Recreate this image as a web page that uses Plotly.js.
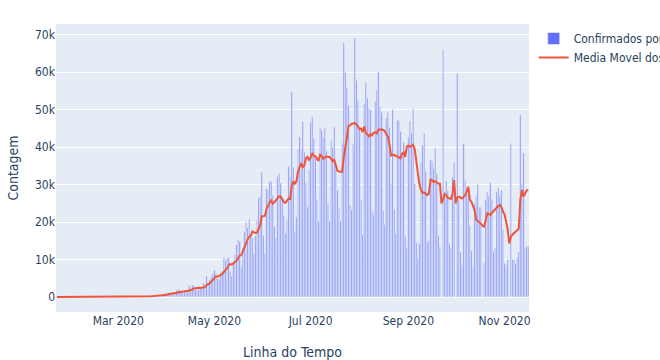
<!DOCTYPE html>
<html>
<head>
<meta charset="utf-8">
<script src="https://cdn.plot.ly/plotly-3.0.1.min.js"></script>
<style>html,body{margin:0;padding:0;background:#fff;overflow:hidden}#chart{width:660px;height:360px}</style>
</head>
<body>
<div id="chart"></div>
<script>
// Daily confirmed cases (Brazil), one array per month; first day of Jan array is Jan 22
const MONTH_KEYS = ['2020-01','2020-02','2020-03','2020-04','2020-05','2020-06','2020-07','2020-08','2020-09','2020-10','2020-11'];
const MONTH_FIRST_DAY = [22,1,1,1,1,1,1,1,1,1,1];

const casesJan = [0,0,0,0,0,0,0,0,0,0];
const casesFeb = [0,0,0,0,0,0,0,0,0,0,0,0,0,0,0,0,0,0,0,0,0,0,0,0,0,1,0,0,1];
const casesMar = [0,0,0,2,5,5,6,5,0,6,16,18,25,21,79,34,57,137,193,283,224,418,345,310,232,482,502,487,352,323,1138];
const casesApr = [1119,1208,1012,1304,770,1031,1873,2136,1922,1546,1089,1465,1238,1832,3058,2105,3257,2976,1996,2089,1927,2498,2678,3735,3503,5514,3379,4613,5385,6276];
const casesMay = [7218,6209,4970,4588,6633,6935,10503,9888,10222,10611,6760,5632,9258,11385,13944,15305,14919,7938,13140,17408,19951,18508,20803,16508,15813,11687,16324,20599,26417,26928,33274];
const casesJun = [16409,11598,28936,28633,30925,30830,27075,18912,15654,32091,32913,30412,25982,21704,17110,20647,34918,32188,54771,34666,17459,21432,39436,42725,39483,46860,38693,30476,24052,33846];
const casesJul = [46712,48105,42223,37279,26051,20229,45305,44571,42619,45048,39023,24831,20286,41857,39924,45403,34970,28532,23529,20257,41008,67860,59961,55891,51147,24578,23284,40816,69074,57837,52383];
const casesAug = [45392,25800,16641,51603,57152,53139,50230,49970,23010,22048,52160,55155,60091,50644,49274,23101,19373,47784,49298,45323,30355,50032,23421,17078,47161,47134,44235,38307,41350,16158,12988];
const casesSep = [42659,46934,43773,50163,30168,14521,10273,14279,35816,40557,43718,33523,14768,15155,36653,36303,34407,39797,33057,16389,13439,0,66000,28000,31000,28378,14318,13155,32058,36000];
const casesOct = [0,59700,26000,12000,8500,41000,31000,29000,27500,19000,12300,8000,25000,27000,30000,24000,24000,0,9000,26000,28000,27000,30500,26000,12000,13000,28000,29000,27000,28500,18000];
const casesNov = [9000,8500,10000,0,41000,10000,10000,9000,10500,12000,48600,30000,38400,13000,13500,13500];

// 7-day moving average
const avgJan = [0,0,0,0,0,0,0,0,0,0];
const avgFeb = [0,0,0,0,0,0,0,0,0,0,0,0,0,0,0,0,0,0,0,0,0,0,0,0,0,0,0,0,0];
const avgMar = [0,0,0,0,1,2,3,3,3,4,6,8,11,13,24,28,36,53,78,115,144,192,237,273,286,328,359,397,387,384,502];
const avgApr = [629,733,806,922,982,1083,1188,1333,1435,1512,1481,1580,1610,1604,1736,1762,2006,2276,2352,2473,2487,2407,2489,2557,2632,3135,3319,3703,4115,4629];
const avgMay = [5127,5513,5436,5608,5897,6118,6722,7104,7677,8483,8793,8650,8982,9108,9687,10414,11029,11197,12270,13434,14658,15310,16095,16322,17447,17240,17085,17177,18307,19182,21577];
const avgJun = [21662,21650,23452,24599,25243,25801,24915,25273,25852,26303,26914,26841,26148,25381,25124,25837,26241,26137,29617,30858,30251,30869,33553,34668,35710,34580,35155,37015,37389,36591];
const avgJul = [37160,38392,37730,37528,36895,36349,37986,37680,36897,37300,37549,37375,37383,36891,36227,36625,35185,33686,33500,33496,33375,37366,39445,42434,45665,45815,46247,46220,46393,46090,45588];
const avgAug = [44766,44941,43992,45533,43830,43159,42851,43505,43106,43879,43958,43673,44666,44725,44626,44639,44257,43632,42795,40685,37787,37895,37941,37613,37524,37215,37059,38200,38600,37400,40200];
const avgSep = [40400,40100,40300,40600,39500,36500,33000,30000,28600,27800,27900,27400,27200,27600,31300,31200,30700,30900,30500,30300,30200,25000,26000,27500,27200,26500,26300,26200,27500,31200];
const avgOct = [25000,26600,26800,26500,26300,26700,27200,28200,29400,25900,25400,24300,23200,20600,20300,20100,19600,19000,18800,20500,22300,22100,21900,22500,23000,23500,23900,24300,24600,24000,22800];
const avgNov = [22000,20100,18000,14300,16100,16600,17000,17400,17900,18200,25900,28600,26800,27600,28400,28600];

const casesByMonth = [casesJan,casesFeb,casesMar,casesApr,casesMay,casesJun,casesJul,casesAug,casesSep,casesOct,casesNov];
const avgByMonth = [avgJan,avgFeb,avgMar,avgApr,avgMay,avgJun,avgJul,avgAug,avgSep,avgOct,avgNov];

const dates = [], cases = [], avg = [];
casesByMonth.forEach((arr, m) => {
  arr.forEach((v, k) => {
    const d = MONTH_FIRST_DAY[m] + k;
    dates.push(MONTH_KEYS[m] + '-' + String(d).padStart(2, '0'));
    cases.push(v);
    avg.push(avgByMonth[m][k]);
  });
});

const traces = [
  {
    type: 'bar', x: dates, y: cases, name: 'Confirmados por dia',
    marker: {color: '#636efa', line: {color: '#E5ECF6', width: 0.7}}
  },
  {
    type: 'scatter', mode: 'lines', x: dates, y: avg, name: 'Media Movel dos últimos 7 dias',
    line: {color: '#EF553B', width: 2}
  }
];

const layout = {
  width: 660, height: 360,
  margin: {l: 56, r: 131, t: 24, b: 48, autoexpand: false},
  paper_bgcolor: '#ffffff', plot_bgcolor: '#E5ECF6',
  font: {family: '"DejaVu Sans Condensed", "Liberation Sans", Arial, sans-serif', size: 12, color: '#2a3f5f'},
  bargap: 0.2,
  showlegend: true,
  legend: {x: 1.01, y: 1, xanchor: 'left', yanchor: 'top', bgcolor: 'rgba(0,0,0,0)', font: {size: 12}},
  xaxis: {
    type: 'date', range: ['2020-01-21 12:00', '2020-11-16 12:00'],
    tick0: '2020-01-01', dtick: 'M2', tickformat: '%b %Y',
    showgrid: false, zeroline: false, showline: false, ticks: '',
    title: {text: 'Linha do Tempo', font: {size: 14}}
  },
  yaxis: {
    range: [-4000, 72860], dtick: 10000, tick0: 0,
    gridcolor: '#ffffff', zeroline: true, zerolinecolor: '#ffffff', zerolinewidth: 2,
    showline: false, ticks: '',
    title: {text: 'Contagem', font: {size: 14}}
  }
};

Plotly.newPlot('chart', traces, layout, {displayModeBar: false, staticPlot: true});
</script>
</body>
</html>
